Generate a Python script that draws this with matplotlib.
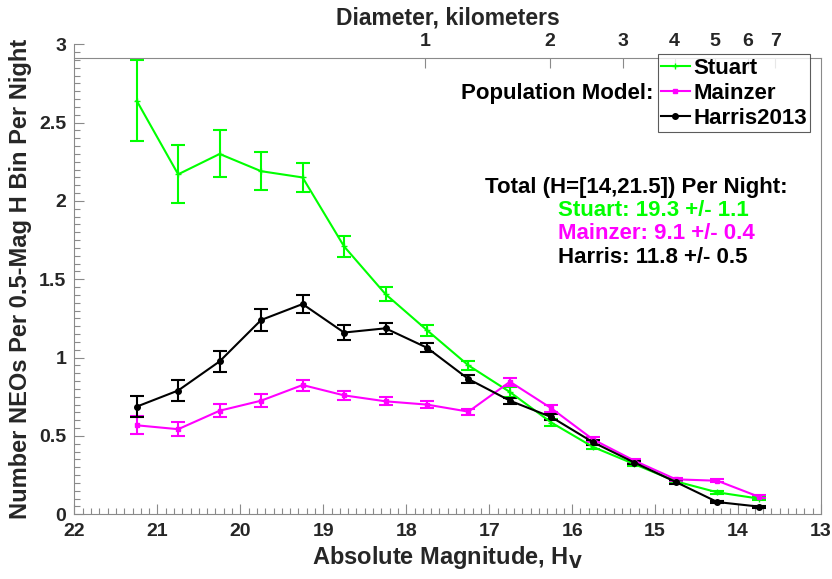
import numpy as np
import matplotlib
matplotlib.use("Agg")
import matplotlib.pyplot as plt
import matplotlib.ticker as ticker
from matplotlib.lines import Line2D

plt.rcParams['font.family'] = ['Liberation Sans', 'DejaVu Sans']
plt.rcParams['font.weight'] = 'bold'
plt.rcParams['axes.labelweight'] = 'bold'
plt.rcParams['mathtext.default'] = 'bf'

# absolute magnitude bin centres
h_bins = [21.25, 20.75, 20.25, 19.75, 19.25, 18.75, 18.25, 17.75,
          17.25, 16.75, 16.25, 15.75, 15.25, 14.75, 14.25, 13.75]

stuart = [2.64, 2.17, 2.30, 2.19, 2.15, 1.71, 1.405, 1.175,
          0.95, 0.78, 0.585, 0.43, 0.32, 0.21, 0.14, 0.10]
stuart_err = [0.26, 0.185, 0.15, 0.12, 0.095, 0.068, 0.045, 0.035,
              0.028, 0.03, 0.02, 0.015, 0.012, 0.01, 0.008, 0.008]

mainzer = [0.568, 0.543, 0.661, 0.725, 0.825, 0.759, 0.721, 0.70,
           0.655, 0.846, 0.676, 0.478, 0.342, 0.223, 0.214, 0.112]
mainzer_err = [0.058, 0.045, 0.04, 0.04, 0.035, 0.03, 0.025, 0.02,
               0.02, 0.025, 0.02, 0.015, 0.012, 0.01, 0.01, 0.01]

harris = [0.687, 0.79, 0.976, 1.24, 1.342, 1.16, 1.187, 1.063,
          0.863, 0.725, 0.62, 0.46, 0.33, 0.206, 0.078, 0.049]
harris_err = [0.065, 0.07, 0.065, 0.07, 0.06, 0.045, 0.035, 0.03,
              0.025, 0.018, 0.02, 0.015, 0.012, 0.01, 0.008, 0.006]

diam_ticks = [1, 2, 3, 4, 5, 6, 7]
albedo = 0.137

totals = ["Stuart: 19.3 +/- 1.1", "Mainzer: 9.1 +/- 0.4", "Harris: 11.8 +/- 0.5"]

GREEN = '#00ff00'
MAGENTA = '#ff00ff'
AXC = '#8a8a8a'
TXT = '#262626'


def h_from_d(d):
    return 5 * np.log10(1329.0 / np.sqrt(albedo) / np.asarray(d, dtype=float))


fig = plt.figure(figsize=(8.32, 5.79), dpi=100)
left, right = 0.0895, 0.9868
bottom = 0.1118
ax = fig.add_axes([left, bottom, right - left, 0.9235 - bottom])
ax2 = fig.add_axes([left, bottom, right - left, 0.8998 - bottom])
ax2.patch.set_visible(False)

series = [(stuart, stuart_err, GREEN, '+', 5, 'Stuart'),
          (mainzer, mainzer_err, MAGENTA, 's', 3.5, 'Mainzer'),
          (harris, harris_err, 'black', 'o', 4, 'Harris2013')]
handles = []
for vals, errs, col, mk, ms, name in series:
    ax.errorbar(h_bins, vals, yerr=errs, color=col, marker=mk, markersize=ms,
                linewidth=1.5, elinewidth=1.5, capsize=5, capthick=1.5)
    handles.append(Line2D([], [], color=col, marker=mk, markersize=ms,
                          linewidth=1.5, label=name))

ax.set_xlim(22, 13)
ax.set_ylim(0, 3)
ax.xaxis.set_major_locator(ticker.MultipleLocator(1))
ax.xaxis.set_minor_locator(ticker.MultipleLocator(0.1))
ax.yaxis.set_major_locator(ticker.MultipleLocator(0.5))
ax.yaxis.set_minor_locator(ticker.MultipleLocator(0.05))
ax.yaxis.set_major_formatter(ticker.FormatStrFormatter('%g'))
for s in ['top', 'right']:
    ax.spines[s].set_visible(False)
for s in ['left', 'bottom']:
    ax.spines[s].set_color(AXC)
ax.tick_params(which='both', direction='in', colors=AXC, labelcolor=TXT,
               labelsize=14, width=0.8)
ax.tick_params(which='major', length=7, pad=6)
ax.tick_params(which='minor', length=4)
ax.set_xlabel('Absolute Magnitude, H$_\\mathbf{V}$', fontsize=17,
              color=TXT, labelpad=3)
ax.set_ylabel('Number NEOs Per 0.5-Mag H Bin Per Night', fontsize=17,
              color=TXT, labelpad=5)

# top diameter axis
ax2.set_xlim(22, 13)
ax2.set_ylim(0, 1)
ax2.yaxis.set_visible(False)
ax2.xaxis.tick_top()
ax2.xaxis.set_label_position('top')
ax2.set_xticks(h_from_d(diam_ticks))
ax2.set_xticklabels([str(d) for d in diam_ticks])
ax2.xaxis.set_minor_locator(ticker.NullLocator())
for s in ['left', 'bottom']:
    ax2.spines[s].set_visible(False)
for s in ['top', 'right']:
    ax2.spines[s].set_color(AXC)
ax2.tick_params(axis='x', which='major', direction='in', length=7, width=0.8,
                colors=AXC, labelcolor=TXT, labelsize=14, pad=6,
                top=True, bottom=False, labeltop=True, labelbottom=False)
ax2.set_xlabel('Diameter, kilometers', fontsize=16.5, color=TXT,
               fontweight='bold', labelpad=6)

leg = ax2.legend(handles=handles, loc='upper left',
                 bbox_to_anchor=(0.7905, 0.9062),
                 bbox_transform=fig.transFigure, fontsize=16, frameon=True,
                 fancybox=False, edgecolor='#333333', borderpad=0.15,
                 labelspacing=0.18, handlelength=1.3, handletextpad=0.15,
                 borderaxespad=0)
leg.get_frame().set_linewidth(0.8)

ax.text(15.02, 2.689, 'Population Model:', fontsize=16, ha='right',
        va='center', color='black')
ax.text(17.05, 2.084, 'Total (H=[14,21.5]) Per Night:', fontsize=16,
        ha='left', va='center', color='black')
for txt, yy, col in zip(totals, [1.937, 1.793, 1.637], [GREEN, MAGENTA, 'black']):
    ax.text(16.165, yy, txt, fontsize=16, ha='left', va='center', color=col)

fig.savefig('out.png', dpi=100)
